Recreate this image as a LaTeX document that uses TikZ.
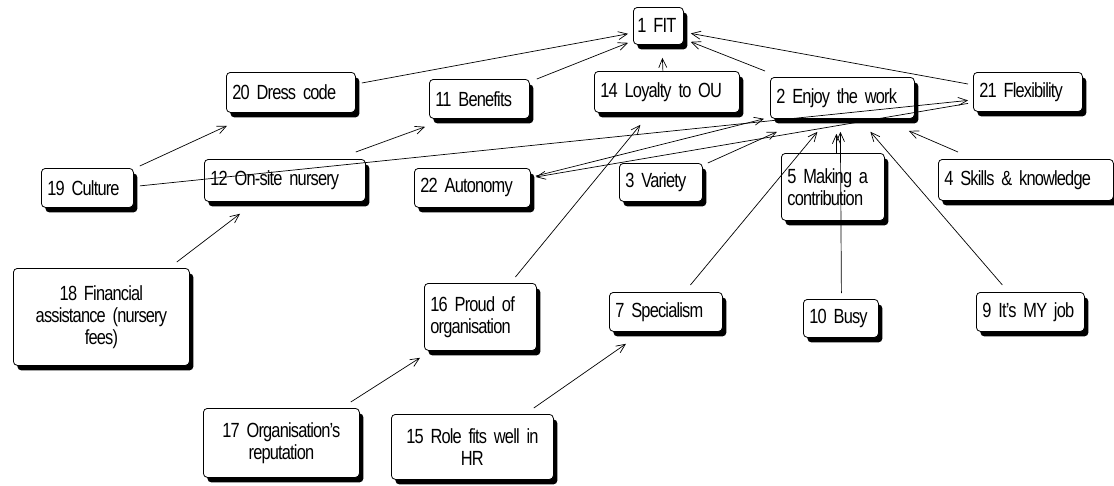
\documentclass[tikz,border=0pt]{standalone}
\usepackage{fontspec}
\setmainfont{Liberation Sans}[FakeStretch=0.8, LetterSpace=-4]
\usetikzlibrary{arrows.meta,shadows}
\newcommand\conceptfont{\fontsize{20.5}{22}\selectfont\fontdimen2\font=2.2pt\fontdimen3\font=0pt\relax}
\tikzset{
  concept/.style={draw, line width=0.8pt, rounded corners=4pt, fill=white,
    inner xsep=6pt, inner ysep=3pt, align=left, anchor=north west,
    font=\conceptfont,
    drop shadow={shadow xshift=4pt, shadow yshift=-5pt, fill=black, opacity=1}},
  link/.style={line width=0.7pt, -{Straight Barb[length=9pt,width=8pt]}}
}

\begin{document}
\begin{tikzpicture}[x=1pt,y=-1pt]
			%%%%% START %%%%%
			\useasboundingbox (0,0) rectangle (1114,485);
			
			% top row
			\node[concept, inner xsep=4pt, text width=42pt, minimum height=37pt] (fit) at (633,7) {1 FIT};
			\node[concept, text width=117pt, minimum height=40pt] (dress) at (226,72) {20 Dress code};
			\node[concept, text width=88pt, minimum height=39pt] (benefits) at (429,79) {11 Benefits};
			\node[concept, text width=133pt, minimum height=41pt] (loyalty) at (594,71) {14 Loyalty to OU};
			\node[concept, text width=132pt, minimum height=41pt] (enjoy) at (770,77) {2 Enjoy the work};
			\node[concept, text width=97pt, minimum height=39pt] (flex) at (973,72) {21 Flexibility};
			
			% middle row
			\node[concept, text width=80pt, minimum height=39pt] (culture) at (41,168) {19 Culture};
			\node[concept, text width=149pt, minimum height=42pt] (nursery) at (204,159) {12 On-site nursery};
			\node[concept, text width=104pt, minimum height=39pt] (autonomy) at (414,168) {22 Autonomy};
			\node[concept, text width=71pt, minimum height=38pt] (variety) at (619,163) {3 Variety};
			\node[concept, text width=91pt, minimum height=67pt] (making) at (781,153) {5 Making a\\contribution};
			\node[concept, text width=163pt, minimum height=41pt] (skills) at (938,159) {4 Skills \& knowledge};
			
			% lower rows
			\node[concept, text width=164pt, minimum height=97pt, align=center] (financial) at (13,268) {18 Financial\\assistance (nursery\\fees)};
			\node[concept, text width=100pt, minimum height=67pt] (proud) at (424,283) {16 Proud of\\organisation};
			\node[concept, text width=101pt, minimum height=39pt] (specialism) at (609,292) {7 Specialism};
			\node[concept, text width=63pt, minimum height=38pt] (busy) at (803,299) {10 Busy};
			\node[concept, text width=96pt, minimum height=39pt] (myjob) at (976,292) {9 It's MY job};
			\node[concept, text width=144pt, minimum height=69pt, align=center] (reputation) at (203,408) {17 Organisation's\\reputation};
			\node[concept, text width=150pt, minimum height=65pt, align=center] (role) at (391,414) {15 Role fits well in\\HR};
			
			% links into 1 FIT
			\draw[link] ([shift={(6,11)}]dress.north east) -- ([shift={(-5,-11)}]fit.south west);
			\draw[link] ([shift={(7,0)}]benefits.north east) -- ([shift={(-5,-2)}]fit.south west);
			\draw[link] ([shift={(-4,0)}]loyalty.north) -- ([shift={(4,13)}]fit.south);
			\draw[link] ([shift={(-5,-6)}]enjoy.north west) -- ([shift={(7,-3)}]fit.south east);
			\draw[link] ([shift={(-5,12)}]flex.north west) -- ([shift={(7,7.5)}]fit.east);
			
			% left side
			\draw[link] ([shift={(6,-2)}]culture.north east) -- ([shift={(1,13)}]dress.south west);
			\draw[link] ([shift={(6,-2)}]culture.east) -- ([shift={(-5,8.5)}]flex.west);
			\draw[link] ([shift={(-10,-7)}]nursery.north east) -- ([shift={(-4,8)}]benefits.south west);
			\draw[link] ([shift={(-13,-6)}]financial.north east) -- ([shift={(36,12)}]nursery.south west);
			\draw[link] ([shift={(-9,-6)}]reputation.north east) -- ([shift={(-4,7)}]proud.south west);
			\draw[link] ([shift={(35,-6)}]proud.north) -- ([shift={(-26.5,12)}]loyalty.south);
			\draw[link] ([shift={(-20,-6)}]role.north east) -- ([shift={(17,12)}]specialism.south west);
			
			% links into 2 Enjoy the work
			\draw[link] ([shift={(-5,11.5)}]flex.west) -- ([shift={(5,9)}]autonomy.north east);
			\draw[link] ([shift={(5,8)}]autonomy.north east) -- ([shift={(-6,0)}]enjoy.south west);
			\draw[link] ([shift={(5,0)}]variety.north east) -- ([shift={(7,13)}]enjoy.south west);
			\draw[link] ([shift={(24.5,-7)}]specialism.north) -- ([shift={(-25,13)}]enjoy.south);
			\draw[link] ([shift={(3.5,0)}]making.north) -- ([shift={(-6,15)}]enjoy.south);
			\draw[link] ([shift={(0.5,-6)}]busy.north) -- ([shift={(-2,13)}]enjoy.south);
			\draw[link] ([shift={(-28,-7)}]myjob.north) -- ([shift={(28,13)}]enjoy.south);
			\draw[link] ([shift={(20,-7)}]skills.north west) -- ([shift={(-6,12)}]enjoy.south east);
			
			%%%%% END %%%%%
\end{tikzpicture}
\end{document}
